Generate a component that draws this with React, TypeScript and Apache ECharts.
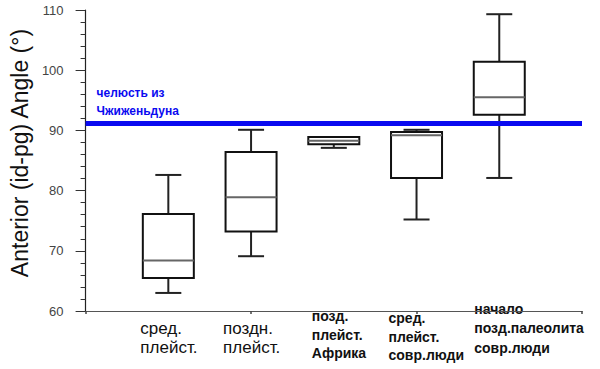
import React, { useEffect, useRef } from "react";
import * as echarts from "echarts";

// ---- data ----
const categories = [
  "сред.\nплейст.",
  "поздн.\nплейст.",
  "позд.\nплейст.\nАфрика",
  "сред.\nплейст.\nсовр.люди",
  "начало\nпозд.палеолита\nсовр.люди",
];
const whiskerLow = [63.0, 69.1, 87.1, 75.2, 82.1];
const quartile1 = [65.5, 73.2, 87.7, 82.1, 92.6];
const medians = [68.4, 78.9, 88.3, 89.2, 95.5];
const quartile3 = [76.1, 86.4, 88.9, 89.75, 101.4];
const whiskerHigh = [82.6, 90.1, 88.9, 90.1, 109.3];
const referenceValue = 91.25;
const referenceLabel = "челюсть из\nЧжиженьдуна";
const yTitle = "Anterior (id-pg) Angle (°)";
const yMin = 60;
const yMax = 110;
const yInterval = 10;

// ---- styles ----
const FONT = "'Liberation Sans', Arial, Helvetica, sans-serif";
const BLUE = "#0a0af0";
// label style per category: [dx from tick, dy from axis, fontSize, weight, lineHeight]
const labelStyles: Array<[number, number, number, string, number]> = [
  [-28, 8, 17, "normal", 19],
  [-28, 8, 17, "normal", 19],
  [-22, -4, 14, "bold", 18.5],
  [-28, -2, 14, "bold", 18.5],
  [-25, -12, 14, "bold", 19.5],
];

export default function App() {
  const ref = useRef<HTMLDivElement>(null);

  useEffect(() => {
    if (!ref.current) return;
    const chart = echarts.init(ref.current, undefined, { renderer: "svg" });
    const axisData = ["", ...categories, ""];
    const boxData = categories.map((c, i) => [
      i + 1,
      whiskerLow[i],
      quartile1[i],
      medians[i],
      quartile3[i],
      whiskerHigh[i],
    ]);

    const option: any = {
      animation: false,
      backgroundColor: "#ffffff",
      grid: { left: 77, right: 18, top: 10, bottom: 58 },
      xAxis: {
        type: "category",
        data: axisData,
        boundaryGap: false,
        axisLine: { show: true, lineStyle: { color: "#555", width: 1.2 } },
        axisTick: { show: true, inside: false, length: 3, lineStyle: { color: "#444", width: 1.5 } },
        axisLabel: { show: false },
        splitLine: { show: false },
      },
      yAxis: {
        type: "value",
        min: yMin,
        max: yMax,
        interval: yInterval,
        name: yTitle,
        nameLocation: "middle",
        nameRotate: 90,
        nameGap: 47,
        nameTextStyle: {
          fontFamily: FONT,
          fontSize: 23,
          color: "#111",
          padding: [0, 0, 0, 15],
        },
        axisLine: { show: true, lineStyle: { color: "#222", width: 1.2 } },
        axisTick: { show: true, inside: false, length: 10, lineStyle: { color: "#333", width: 1 } },
        minorTick: { show: true, splitNumber: 5, length: 5, lineStyle: { color: "#333", width: 1 } },
        axisLabel: { color: "#444", fontSize: 13, fontFamily: FONT, margin: 22 },
        splitLine: { show: false },
      },
      series: [
        {
          type: "custom",
          data: boxData,
          z: 2,
          renderItem: (params: any, api: any) => {
            const x = api.value(0);
            const pLow = api.coord([x, api.value(1)]);
            const pQ1 = api.coord([x, api.value(2)]);
            const pMed = api.coord([x, api.value(3)]);
            const pQ3 = api.coord([x, api.value(4)]);
            const pHigh = api.coord([x, api.value(5)]);
            const cx = pQ1[0];
            const halfBox = 25.5;
            const halfCap = 13;
            const whisker = { stroke: "#222", lineWidth: 2 };
            return {
              type: "group",
              children: [
                { type: "line", shape: { x1: cx, y1: pLow[1], x2: cx, y2: pQ1[1] }, style: whisker },
                { type: "line", shape: { x1: cx, y1: pQ3[1], x2: cx, y2: pHigh[1] }, style: whisker },
                { type: "line", shape: { x1: cx - halfCap, y1: pLow[1], x2: cx + halfCap, y2: pLow[1] }, style: whisker },
                { type: "line", shape: { x1: cx - halfCap, y1: pHigh[1], x2: cx + halfCap, y2: pHigh[1] }, style: whisker },
                {
                  type: "rect",
                  shape: { x: cx - halfBox, y: pQ3[1], width: halfBox * 2, height: pQ1[1] - pQ3[1] },
                  style: { fill: "#ffffff", stroke: "#111", lineWidth: 2 },
                },
                {
                  type: "line",
                  shape: { x1: cx - halfBox, y1: pMed[1], x2: cx + halfBox, y2: pMed[1] },
                  style: { stroke: "#666", lineWidth: 2 },
                },
              ],
            };
          },
          markLine: {
            silent: true,
            symbol: "none",
            z: 5,
            label: { show: false },
            lineStyle: { color: BLUE, width: 5, type: "solid" },
            data: [{ yAxis: referenceValue }],
          },
        },
      ],
    };
    chart.setOption(option);

    const graphics: any[] = categories.map((c, i) => {
      const p = chart.convertToPixel({ xAxisIndex: 0, yAxisIndex: 0 }, [i + 1, yMin]);
      const [dx, dy, fs, fw, lh] = labelStyles[i];
      return {
        type: "text",
        x: p[0] + dx,
        y: p[1] + dy,
        style: {
          text: c,
          fill: "#111",
          fontFamily: FONT,
          fontSize: fs,
          fontWeight: fw,
          lineHeight: lh,
          align: "left",
          verticalAlign: "top",
        },
      };
    });
    const refPix = chart.convertToPixel({ xAxisIndex: 0, yAxisIndex: 0 }, [0, referenceValue]);
    graphics.push({
      type: "text",
      x: refPix[0] + 11,
      y: refPix[1] - 39,
      style: {
        text: referenceLabel,
        fill: BLUE,
        fontFamily: FONT,
        fontSize: 12,
        fontWeight: "bold",
        lineHeight: 18,
        align: "left",
        verticalAlign: "top",
      },
    });
    chart.setOption({ graphic: graphics });

    return () => chart.dispose();
  }, []);

  return (
    <div
      ref={ref}
      style={{ position: "fixed", left: 0, top: 0, width: 600, height: 369, background: "#fff" }}
    />
  );
}
